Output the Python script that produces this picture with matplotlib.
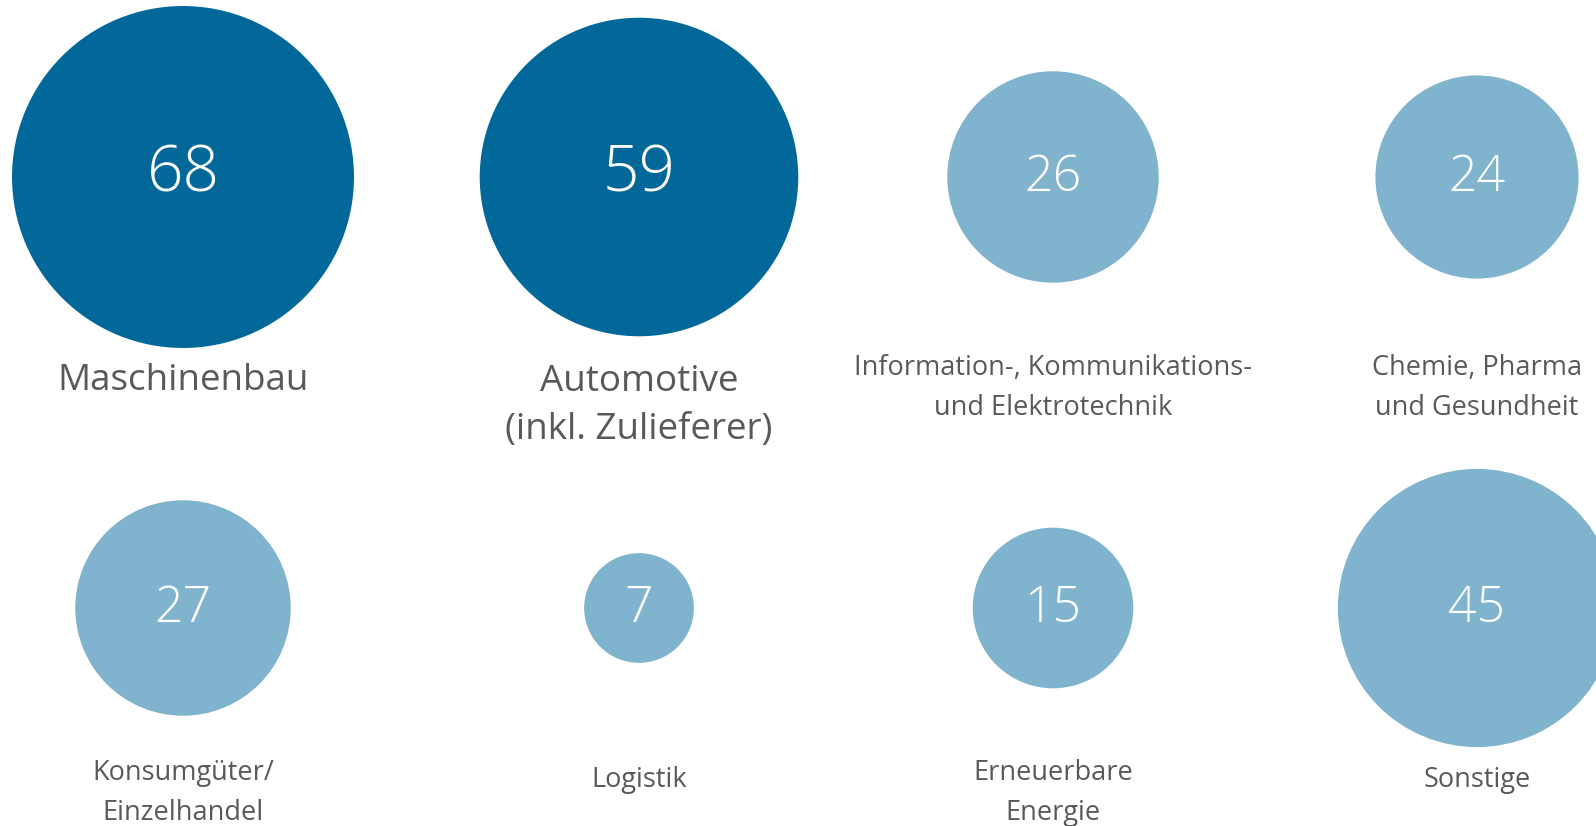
import numpy as np
import matplotlib
matplotlib.use("Agg")
from matplotlib import pyplot as plt

# data
categories = ["Maschinenbau", "Automotive\n(inkl. Zulieferer)",
              "Information-, Kommunikations-\nund Elektrotechnik", "Chemie, Pharma\nund Gesundheit",
              "Konsumgüter/\nEinzelhandel", "Logistik", "Erneuerbare\nEnergie", "Sonstige"]
values = [68, 59, 26, 24, 27, 7, 15, 45]
highlight = [True, True, False, False, False, False, False, False]

# layout (pixel grid of the figure)
col_x = [183, 639, 1053, 1477]
row_y = [177, 608]
label_y = [[381, 406, 388, 388], [793, 780, 793, 780]]

dark = "#02689A"
light = "#80B3CD"
grey = "#595959"

plt.rcParams['font.family'] = ['Open Sans', 'DejaVu Sans']

fig = plt.figure(figsize=(15.96, 8.26), dpi=100)
ax = fig.add_axes([0, 0, 1, 1])
ax.set_xlim(0, 1596)
ax.set_ylim(826, 0)
ax.axis('off')

px_per_pt = 100 / 72
k = 430  # px^2 of bubble area per unit

for i, (cat, v, hi) in enumerate(zip(categories, values, highlight)):
    r, c = divmod(i, 4)
    x, y = col_x[c], row_y[r]
    radius_pt = np.sqrt(k * v) / px_per_pt
    ax.scatter([x], [y], s=(2 * radius_pt) ** 2, color=dark if hi else light,
               edgecolors='none', zorder=2)
    ax.text(x, y - 2 if hi else y + 1, str(v), color='white', ha='center', va='center',
            fontsize=46 if hi else 36, fontweight='light', zorder=3)
    ax.text(x, label_y[r][c], cat, color=grey, ha='center', va='center',
            fontsize=26.5 if hi else 19.5, linespacing=1.45 if hi else 1.6)

fig.savefig("out.png", dpi=100)
